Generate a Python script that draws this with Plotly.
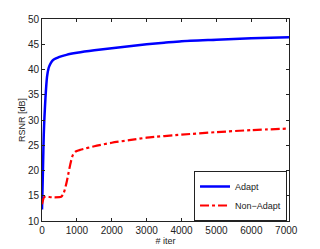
import plotly.graph_objects as go

adapt_x = [0, 10, 30, 50, 70, 100, 143, 190, 230, 280, 320, 400, 500, 700, 1000, 1500, 2000, 2500, 3000, 3500, 4000, 5000, 6000, 7080]
adapt_y = [12.3, 15.0, 21.0, 27.0, 30.5, 34.5, 38.5, 40.3, 41.0, 41.6, 41.9, 42.2, 42.5, 42.9, 43.3, 43.8, 44.2, 44.6, 45.0, 45.3, 45.6, 45.9, 46.2, 46.4]

nonadapt_x = [0, 30, 60, 100, 300, 550, 620, 700, 760, 820, 880, 950, 1100, 1500, 2000, 2500, 3000, 4000, 5000, 6000, 7080]
nonadapt_y = [13.3, 14.2, 14.7, 14.8, 14.7, 14.8, 15.5, 17.5, 19.5, 21.5, 23.0, 23.7, 24.1, 24.8, 25.5, 26.0, 26.5, 27.1, 27.6, 28.0, 28.3]

x_ticks = [0, 1000, 2000, 3000, 4000, 5000, 6000, 7000]
y_ticks = [10, 15, 20, 25, 30, 35, 40, 45, 50]

fig = go.Figure()
fig.add_trace(go.Scatter(x=adapt_x, y=adapt_y, mode="lines", name="Adapt",
                         line=dict(color="#0000ff", width=2.5, shape="spline", smoothing=0.6)))
fig.add_trace(go.Scatter(x=nonadapt_x, y=nonadapt_y, mode="lines", name="Non\u2212Adapt",
                         line=dict(color="#ff0000", width=2.2, dash="dashdot", shape="spline", smoothing=0.6)))

axis_common = dict(showline=True, linecolor="#222222", linewidth=1, mirror="allticks",
                   ticks="inside", ticklen=3, tickcolor="#222222", showgrid=False,
                   zeroline=False, automargin=False,
                   tickfont=dict(family="Liberation Sans, Arial", size=10, color="#222222"))

fig.update_layout(
    width=312, height=241,
    margin=dict(l=34, r=31, t=11, b=28),
    paper_bgcolor="white", plot_bgcolor="white",
    font=dict(family="Liberation Sans, Arial", size=10, color="#222222"),
    xaxis=dict(range=[0, 7080], tickvals=x_ticks, title=dict(text="# iter", standoff=0,
               font=dict(size=9)), **axis_common),
    yaxis=dict(range=[10, 50], tickvals=y_ticks, title=dict(text="RSNR [dB]", standoff=0,
               font=dict(size=9)), **axis_common),
    legend=dict(x=0.992, y=0.0, xanchor="right", yanchor="bottom",
                bgcolor="white", bordercolor="#222222", borderwidth=1,
                font=dict(size=9), tracegroupgap=0, itemwidth=30),
    showlegend=True,
)

fig.write_html("out.html")
